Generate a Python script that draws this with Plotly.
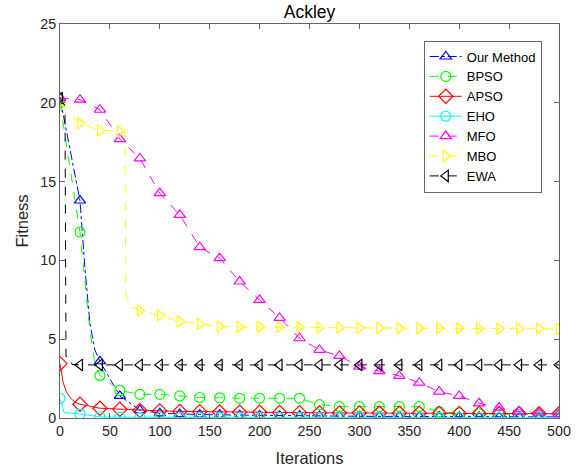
import plotly.graph_objects as go

# Convergence curves on the Ackley function (fitness vs. iteration).
# Markers are drawn every 20 iterations; a few extra points shape the drops.
iterations = list(range(0, 501, 20))

our_method = [20.3, 13.8, 3.6, 1.4, 0.5, 0.3, 0.25, 0.22, 0.2, 0.18, 0.16, 0.15, 0.14,
              0.13, 0.12, 0.11, 0.1, 0.1, 0.09, 0.09, 0.08, 0.08, 0.07, 0.07, 0.07, 0.07]
our_method_extra_x = [25, 30, 35]
our_method_extra_y = [9.5, 6.0, 4.3]

bpso = [20.0, 11.8, 2.7, 1.75, 1.5, 1.5, 1.4, 1.3, 1.28, 1.25, 1.25, 1.25, 1.25,
        0.85, 0.72, 0.72, 0.72, 0.72, 0.72, 0.4, 0.3, 0.27, 0.25, 0.22, 0.2, 0.2]
bpso_extra_x = [30, 35]
bpso_extra_y = [5.5, 3.5]

apso = [3.45, 0.87, 0.62, 0.55, 0.48, 0.45, 0.42, 0.4, 0.38, 0.37, 0.36, 0.35, 0.34,
        0.33, 0.32, 0.32, 0.31, 0.3, 0.3, 0.29, 0.29, 0.28, 0.28, 0.28, 0.27, 0.27]
apso_extra_x = [3, 6, 10, 15]
apso_extra_y = [2.3, 1.7, 1.3, 1.0]

eho = [1.25, 0.25, 0.08, 0.05, 0.04, 0.03, 0.03, 0.02, 0.02, 0.02, 0.02, 0.02, 0.02,
       0.02, 0.02, 0.02, 0.02, 0.02, 0.02, 0.02, 0.02, 0.02, 0.02, 0.02, 0.02, 0.02]
eho_extra_x = [4]
eho_extra_y = [0.35]

mfo = [20.3, 20.2, 19.56, 17.7, 16.47, 14.27, 12.89, 10.84, 10.14, 8.66, 7.49, 6.35, 5.06,
       4.32, 3.94, 3.26, 2.98, 2.67, 2.24, 1.67, 1.40, 0.93, 0.66, 0.40, 0.30, 0.25]
mfo_extra_x = []
mfo_extra_y = []

mbo = [20.0, 18.7, 18.25, 18.2, 6.8, 6.5, 6.12, 5.97, 5.8, 5.78, 5.78, 5.78, 5.76,
       5.75, 5.74, 5.72, 5.71, 5.7, 5.7, 5.69, 5.69, 5.68, 5.68, 5.67, 5.66, 5.65]
mbo_extra_x = [65, 66, 70]
mbo_extra_y = [18.1, 7.9, 7.2]

ewa = [20.3] + [3.37] * 25
ewa_extra_x = [5, 6, 10, 12]
ewa_extra_y = [19.8, 3.9, 3.9, 3.4]

x_ticks = list(range(0, 501, 50))
y_ticks = list(range(0, 26, 5))

series = [
    ("Our Method", our_method, our_method_extra_x, our_method_extra_y, "#0000ff", "dashdot", "triangle-up-open", 10),
    ("BPSO", bpso, bpso_extra_x, bpso_extra_y, "#00ff00", "dash", "circle-open", 10),
    ("APSO", apso, apso_extra_x, apso_extra_y, "#ff0000", "solid", "diamond-open", 11),
    ("EHO", eho, eho_extra_x, eho_extra_y, "#00ffff", "solid", "circle-open", 10),
    ("MFO", mfo, mfo_extra_x, mfo_extra_y, "#ff00ff", "dash", "triangle-up-open", 10),
    ("MBO", mbo, mbo_extra_x, mbo_extra_y, "#ffff00", "dash", "triangle-right-open", 10),
    ("EWA", ewa, ewa_extra_x, ewa_extra_y, "#000000", "dash", "triangle-left-open", 10),
]

FONT = "Liberation Sans, Arial, sans-serif"
AXIS_COLOR = "#646464"

fig = go.Figure()
for name, vals, ex, ey, color, dash, symbol, msize in series:
    pts = sorted(list(zip(iterations, vals)) + list(zip(ex, ey)))
    lx = [p[0] for p in pts]
    ly = [p[1] for p in pts]
    # full curve
    fig.add_trace(go.Scatter(x=lx, y=ly, mode="lines", legendgroup=name, showlegend=False,
                             line=dict(color=color, width=1, dash=dash), hoverinfo="skip"))
    # markers every 20 iterations
    fig.add_trace(go.Scatter(x=iterations, y=vals, mode="markers", legendgroup=name, showlegend=False,
                             marker=dict(symbol=symbol, size=msize, color=color,
                                         line=dict(color=color, width=1.2))))
    # legend entry
    fig.add_trace(go.Scatter(x=[None], y=[None], mode="lines+markers", name=name, legendgroup=name,
                             line=dict(color=color, width=1, dash=dash),
                             marker=dict(symbol=symbol, size=msize, color=color,
                                         line=dict(color=color, width=1.2))))

axis_common = dict(showgrid=False, zeroline=False, showline=True, linecolor=AXIS_COLOR, linewidth=1,
                   mirror="ticks", ticks="inside", ticklen=5, tickcolor=AXIS_COLOR, tickwidth=1,
                   tickfont=dict(family=FONT, size=14.3, color="#262626"))

fig.update_layout(
    width=578, height=467,
    margin=dict(l=60, r=19, t=24, b=49, autoexpand=False),
    paper_bgcolor="white", plot_bgcolor="white",
    font=dict(family=FONT, size=14, color="#262626"),
    title=dict(text="Ackley", x=0.5355, xanchor="center", y=0.974, yanchor="middle",
               font=dict(family=FONT, size=17.5, color="#000000")),
    xaxis=dict(range=[0, 500], tickvals=x_ticks, automargin=False,
               title=dict(text="Iterations", font=dict(family=FONT, size=16.5, color="#262626"), standoff=14),
               **axis_common),
    yaxis=dict(range=[0, 25], tickvals=y_ticks, automargin=False,
               title=dict(text="Fitness", font=dict(family=FONT, size=16.5, color="#262626"), standoff=7),
               **axis_common),
    legend=dict(x=0.729, y=0.958, xanchor="left", yanchor="top", bgcolor="white",
                bordercolor="#666666", borderwidth=1, tracegroupgap=0, itemwidth=32,
                font=dict(family=FONT, size=13, color="#000000")),
    showlegend=True,
)

fig.write_html("out.html")
